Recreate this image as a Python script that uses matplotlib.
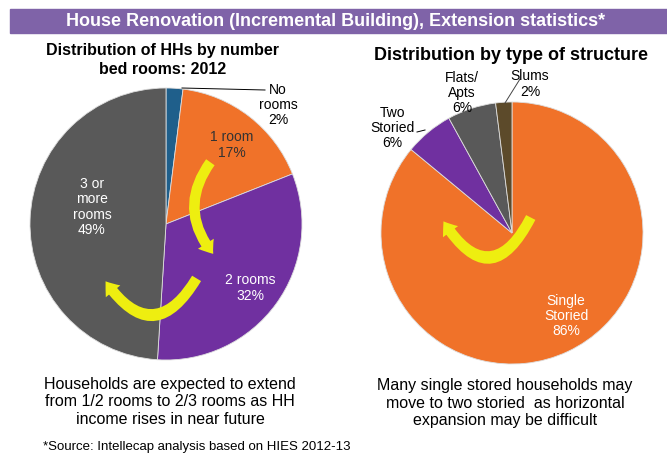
import matplotlib.pyplot as plt
from matplotlib.patches import FancyArrowPatch, Rectangle

# data
room_labels = ['No\nrooms\n2%', '1 room\n17%', '2 rooms\n32%', '3 or\nmore\nrooms\n49%']
room_shares = [2, 17, 32, 49]
room_colors = ['#1F5F8B', '#F07229', '#7030A0', '#595959']

struct_labels = ['Single\nStoried\n86%', 'Two\nStoried\n6%', 'Flats/\nApts\n6%', 'Slums\n2%']
struct_shares = [86, 6, 6, 2]
struct_colors = ['#F07229', '#7030A0', '#595959', '#5C4A2A']

W, H = 667, 462
plt.rcParams['font.family'] = ['Liberation Sans', 'DejaVu Sans']
fig = plt.figure(figsize=(W / 100, H / 100), dpi=100)


def px_axes(cx, cy, r):
    return fig.add_axes([(cx - r) / W, (H - cy - r) / H, 2 * r / W, 2 * r / H])


# overlay in pixel coords for text / decorations
ov = fig.add_axes([0, 0, 1, 1], zorder=5)
ov.set_xlim(0, W)
ov.set_ylim(H, 0)
ov.axis('off')

# header band
fig.patches.append(Rectangle((10 / W, (H - 33) / H), (W - 10) / W, 24 / H,
                             transform=fig.transFigure, color='#7F63A8', zorder=0))
fig.text(336 / W, 1 - 21 / H, 'House Renovation (Incremental Building), Extension statistics*',
         ha='center', va='center', color='white', fontsize=13, fontweight='bold')

# left pie
ax1 = px_axes(166, 224, 136)
ax1.pie(room_shares, colors=room_colors, startangle=90, counterclock=False, radius=1,
        wedgeprops=dict(edgecolor='#DDDDDD', linewidth=0.6))
ax1.set_xlim(-1, 1)
ax1.set_ylim(-1, 1)
ax1.axis('off')

# right pie
ax2 = px_axes(512, 233, 131)
ax2.pie(struct_shares, colors=struct_colors, startangle=90, counterclock=False, radius=1,
        wedgeprops=dict(edgecolor='#DDDDDD', linewidth=0.6))
ax2.set_xlim(-1, 1)
ax2.set_ylim(-1, 1)
ax2.axis('off')

# subtitles
ov.text(163, 60, 'Distribution of HHs by number\nbed rooms: 2012', ha='center', va='center',
        fontsize=11.5, fontweight='bold', linespacing=1.3)
ov.text(511, 55, 'Distribution by type of structure', ha='center', va='center',
        fontsize=13, fontweight='bold')

# slice labels
lab = dict(ha='center', va='center', fontsize=10, linespacing=1.1)
ov.text(278, 105, room_labels[0], color='black', **lab)
ov.text(232, 145, room_labels[1], color='#333333', **lab)
ov.text(250, 288, room_labels[2], color='white', **lab)
ov.text(92, 207, room_labels[3], color='white', **lab)
ov.plot([182, 265], [88, 90], color='black', lw=0.7)

ov.text(566, 316, struct_labels[0], color='white', **lab)
ov.text(392, 128, struct_labels[1], color='black', **lab)
ov.text(462, 93, struct_labels[2], color='black', **lab)
ov.text(530, 84, struct_labels[3], color='black', **lab)
ov.plot([417, 425], [132, 130], color='black', lw=0.7)
ov.plot([505, 520], [103, 79], color='#444444', lw=0.7)

# yellow arrows
arr = dict(arrowstyle='simple,head_length=6,head_width=9,tail_width=5',
           color='#EEEE10', lw=0, mutation_scale=1.5)
ov.add_patch(FancyArrowPatch((212, 160), (215, 256), connectionstyle='arc3,rad=0.4', **arr))
ov.add_patch(FancyArrowPatch((198, 276), (104, 279), connectionstyle='arc3,rad=-0.8', **arr))
ov.add_patch(FancyArrowPatch((532, 215), (442, 219), connectionstyle='arc3,rad=-0.9', **arr))

# notes
note = dict(ha='center', va='center', fontsize=11.5, linespacing=1.2)
ov.text(170, 402, 'Households are expected to extend\nfrom 1/2 rooms to 2/3 rooms as HH\nincome rises in near future', **note)
ov.text(505, 403, 'Many single stored households may\nmove to two storied  as horizontal\nexpansion may be difficult', **note)
ov.text(43, 447, '*Source: Intellecap analysis based on HIES 2012-13', ha='left', va='center', fontsize=9.5)

fig.savefig('out.png', dpi=100)
